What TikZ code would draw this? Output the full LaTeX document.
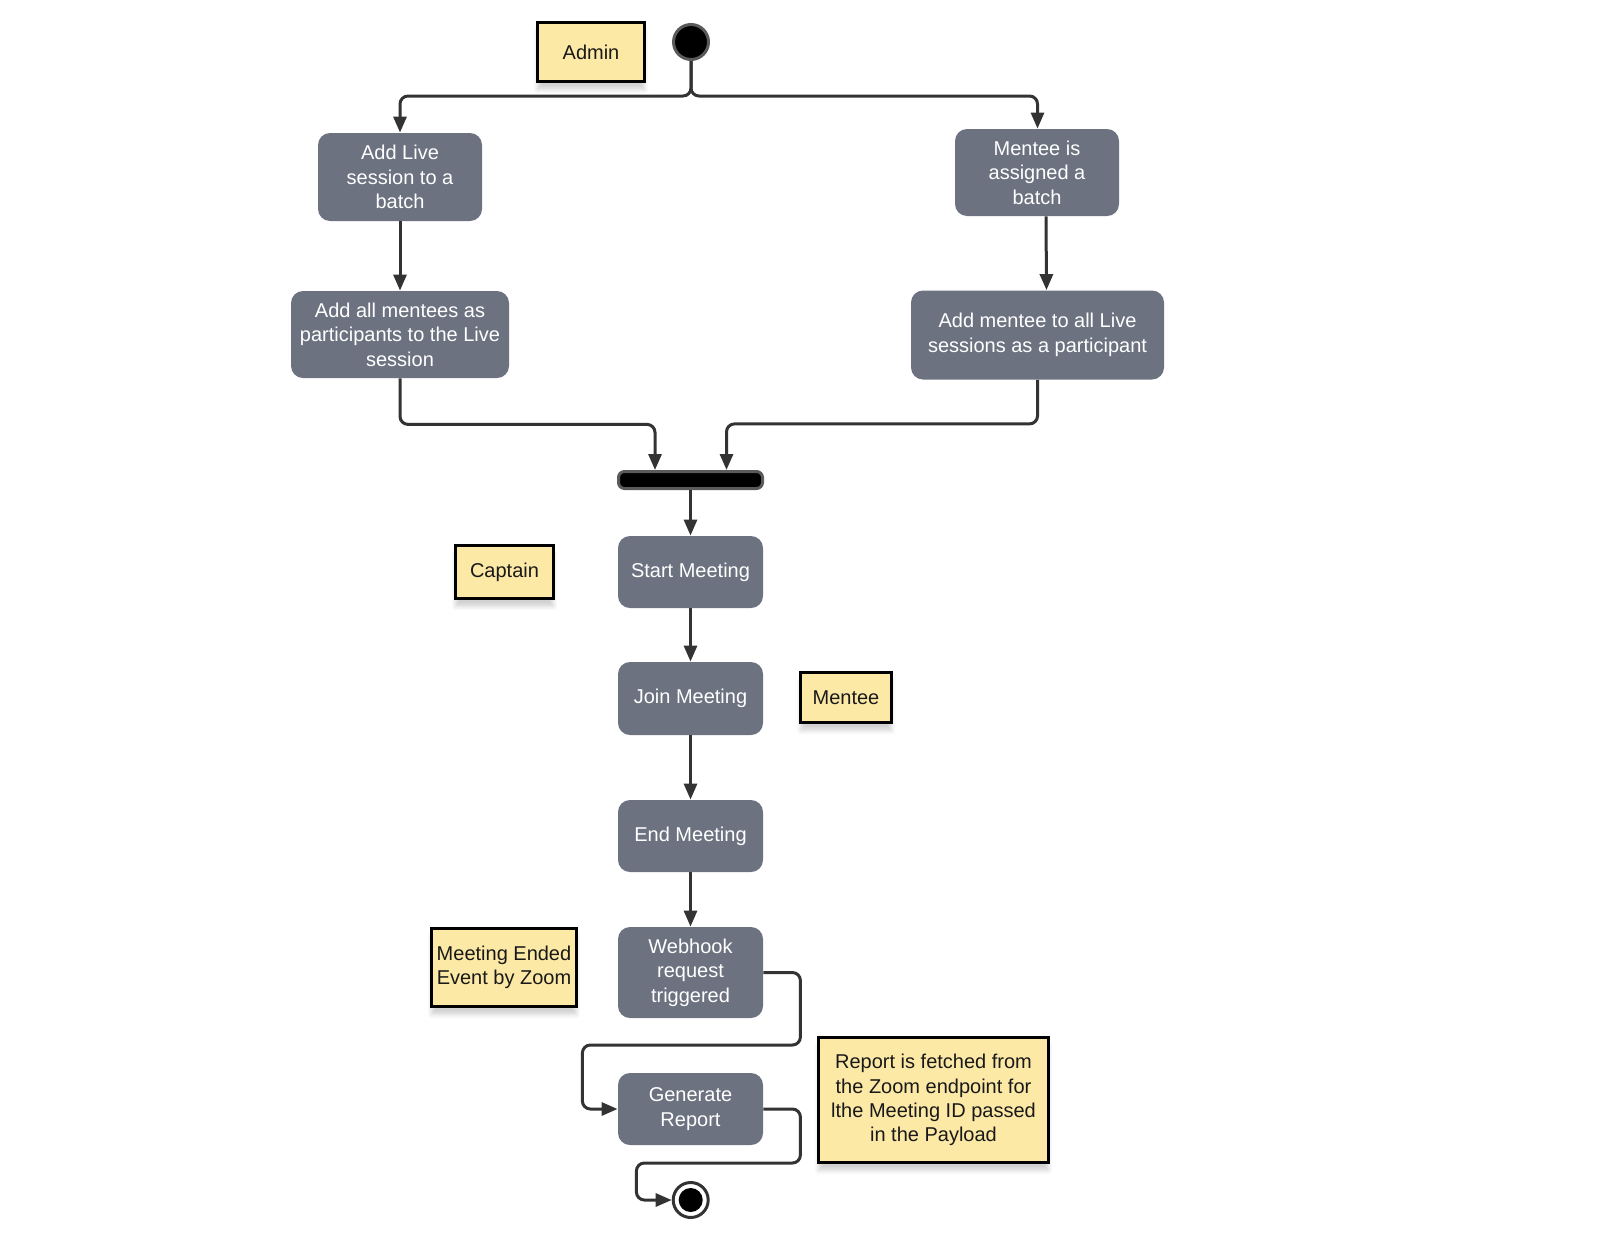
\documentclass[tikz,border=0pt]{standalone}
\usepackage{fontspec}
\setmainfont{Liberation Sans}
\usetikzlibrary{arrows.meta,shadows.blur}
\definecolor{boxgray}{RGB}{108,114,128}
\definecolor{notefill}{RGB}{253,233,166}
\definecolor{conncol}{RGB}{51,51,51}
\definecolor{ringgray}{RGB}{90,90,90}
\tikzset{
  act/.style={rectangle, rounded corners=6pt, fill=boxgray, draw=none, text=white,
    align=center, inner sep=0pt, font=\fontsize{10pt}{12.2pt}\selectfont},
  note/.style={rectangle, fill=notefill, draw=black, line width=1.5pt, text=black!90,
    align=center, inner sep=0pt, font=\fontsize{10pt}{12.1pt}\selectfont,
    blur shadow={shadow xshift=0pt, shadow yshift=-4pt, shadow blur steps=6, shadow opacity=18}},
  conn/.style={draw=conncol, line width=1.5pt, rounded corners=4pt,
    -{Triangle[length=8pt,width=6.5pt]}},
  plain/.style={draw=conncol, line width=1.5pt, rounded corners=4pt}
}
\begin{document}
\begin{tikzpicture}[x=0.5pt,y=-0.5pt]
\useasboundingbox (0,0) rectangle (1600,1237);
% start
\node[circle, fill=black, draw=ringgray, line width=1.5pt, minimum size=17.5pt, inner sep=0pt] (start) at (691,42) {};
\node[note, minimum width=53.5pt, minimum height=29.5pt] (admin) at (591,52) {Admin};
% left branch
\node[act, minimum width=82pt, minimum height=44pt] (addlive) at (400,177) {Add Live\\session to a\\batch};
\node[act, minimum width=109pt, minimum height=43.5pt] (addall) at (400,334.5) {Add all mentees as\\participants to the Live\\session};
% right branch
\node[act, minimum width=82pt, minimum height=43.5pt] (assigned) at (1037,172.5) {Mentee is\\assigned a\\batch};
\node[act, minimum width=126.5pt, minimum height=44.5pt] (addmentee) at (1037.5,335) {Add mentee to all Live\\sessions as a participant};
% join bar
\node[rectangle, rounded corners=3pt, fill=black, draw=ringgray, line width=1.5pt, minimum width=72pt, minimum height=8.5pt, inner sep=0pt] (bar) at (690.5,480) {};
% main flow
\node[act, minimum width=72.5pt, minimum height=36pt] (startm) at (690.5,572) {Start Meeting};
\node[note, minimum width=49pt, minimum height=26.5pt] (captain) at (504.5,572) {Captain};
\node[act, minimum width=72.5pt, minimum height=36.5pt] (joinm) at (690.5,698.5) {Join Meeting};
\node[note, minimum width=45.5pt, minimum height=25pt] (menteenote) at (846,697.5) {Mentee};
\node[act, minimum width=72.5pt, minimum height=36pt] (endm) at (690.5,836) {End Meeting};
\node[act, minimum width=72.5pt, minimum height=45.5pt] (webhook) at (690.5,972.5) {Webhook\\request\\triggered};
\node[note, minimum width=72.5pt, minimum height=39pt] (zoomev) at (504,967.5) {Meeting Ended\\Event by Zoom};
\node[act, minimum width=72.5pt, minimum height=36pt] (gen) at (690.5,1109) {Generate\\Report};
\node[note, minimum width=115pt, minimum height=62.5pt] (report) at (933.5,1100) {Report is fetched from\\the Zoom endpoint for\\lthe Meeting ID passed\\in the Payload};
% end
\node[circle, fill=white, draw=conncol, line width=1.5pt, minimum size=17.5pt, inner sep=0pt] (endc) at (690.7,1200) {};
\node[circle, fill=black, minimum size=12pt, inner sep=0pt] (endin) at (endc) {};
% connectors
\coordinate (split) at (691,96);
\draw[conn] (start.south) -- (split) -| (addlive.north);
\draw[conn] (start.south) -- (split) -| (addmentee.north |- assigned.north);
\draw[conn] (addlive.south) -- (addall.north);
\draw[conn] ([xshift=4.5pt]assigned.south) -- ([xshift=4.5pt]addmentee.north);
\draw[conn] (addall.south) -- ++(0,46) -| ([xshift=-17.75pt]bar.north);
\draw[conn] (addmentee.south) -- ++(0,44) -| ([xshift=18pt]bar.north);
\draw[conn] (bar.south) -- (startm.north);
\draw[conn] (startm.south) -- (joinm.north);
\draw[conn] (joinm.south) -- (endm.north);
\draw[conn] (endm.south) -- (webhook.north);
\draw[conn] (webhook.east) -- ++(37,0) |- ++(-218,72.5) |- (gen.west);
\draw[conn] (gen.east) -- ++(37,0) |- ++(-164,54) |- (endc.west);
\end{tikzpicture}
\end{document}
